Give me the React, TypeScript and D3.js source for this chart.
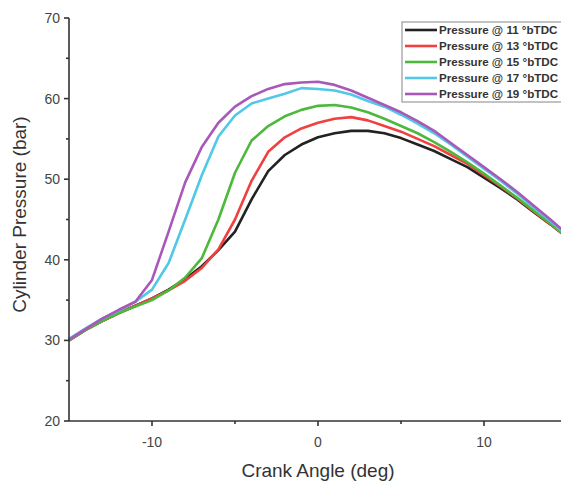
import React from 'react'
import * as d3 from 'd3'

const angles = d3.range(-15, 16)
const seriesNames = [
  'Pressure @ 11 °bTDC',
  'Pressure @ 13 °bTDC',
  'Pressure @ 15 °bTDC',
  'Pressure @ 17 °bTDC',
  'Pressure @ 19 °bTDC',
]
const colors = ['#222222', '#f04040', '#4cb83c', '#50c8e6', '#a858b8']

const p11 = [30, 31.3, 32.4, 33.4, 34.3, 35.2, 36.3, 37.6, 39.2, 41.2, 43.5, 47.5, 51.0, 53.0, 54.3, 55.2, 55.7, 56.0, 56.0, 55.7, 55.1, 54.3, 53.5, 52.5, 51.5, 50.2, 48.9, 47.5, 45.9, 44.4, 42.8]
const p13 = [30, 31.3, 32.4, 33.4, 34.3, 35.2, 36.2, 37.4, 39.0, 41.3, 45.0, 49.8, 53.4, 55.2, 56.3, 57.0, 57.5, 57.7, 57.3, 56.6, 55.9, 55.0, 54.1, 53.0, 51.9, 50.5, 49.1, 47.6, 46.0, 44.4, 42.8]
const p15 = [30, 31.3, 32.4, 33.4, 34.2, 35.0, 36.2, 37.8, 40.2, 45.0, 50.8, 54.8, 56.6, 57.8, 58.6, 59.1, 59.2, 58.9, 58.3, 57.5, 56.6, 55.7, 54.6, 53.4, 52.1, 50.7, 49.2, 47.7, 46.1, 44.5, 42.8]
const p17 = [30.2, 31.5, 32.7, 33.7, 34.8, 36.3, 39.6, 45.0, 50.5, 55.3, 57.9, 59.4, 60.0, 60.6, 61.3, 61.2, 61.0, 60.5, 59.7, 59.0, 58.0, 56.9, 55.7, 54.3, 52.8, 51.3, 49.8, 48.2, 46.5, 44.8, 43.0]
const p19 = [30.1, 31.4, 32.7, 33.8, 34.8, 37.5, 43.5, 49.6, 54.0, 57.0, 59.0, 60.3, 61.2, 61.8, 62.0, 62.1, 61.7, 61.0, 60.1, 59.2, 58.3, 57.2, 56.0, 54.5, 53.0, 51.5, 50.0, 48.4, 46.7, 45.0, 43.2]
const allSeries = [p11, p13, p15, p17, p19]

const xTicks = [-10, 0, 10]
const xMinor = [-5, 5]
const yTicks = [20, 30, 40, 50, 60, 70]
const yMinor = [25, 35, 45, 55, 65]

export default function App() {
  const width = 561
  const height = 484
  const x = d3.scaleLinear().domain([-15, 15]).range([69, 567])
  const y = d3.scaleLinear().domain([20, 70]).range([421, 18])
  const line = d3
    .line<number>()
    .x((_, i) => x(angles[i]))
    .y((d) => y(d))

  const axisColor = '#333'
  const font = 'Arial, "Liberation Sans", sans-serif'

  return (
    <div style={{position: 'absolute', left: 0, top: 0}}>
      <svg width={width} height={height} style={{display: 'block', background: '#fff'}}>
        {/* lines */}
        {allSeries.map((s, i) => (
          <path key={i} d={line(s) || ''} fill="none" stroke={colors[i]} strokeWidth={2.6} strokeLinejoin="round" />
        ))}

        {/* axes */}
        <line x1={x(-15)} x2={width} y1={y(20)} y2={y(20)} stroke={axisColor} strokeWidth={1.6} />
        <line x1={x(-15)} x2={x(-15)} y1={y(70)} y2={y(20)} stroke={axisColor} strokeWidth={1.6} />
        {xTicks.map((t) => (
          <g key={t}>
            <line x1={x(t)} x2={x(t)} y1={y(20)} y2={y(20) + 5} stroke={axisColor} strokeWidth={1.6} />
            <text x={x(t)} y={447} textAnchor="middle" fontSize={14} fontFamily={font} fill="#444">
              {t}
            </text>
          </g>
        ))}
        {xMinor.map((t) => (
          <line key={t} x1={x(t)} x2={x(t)} y1={y(20)} y2={y(20) + 3} stroke={axisColor} strokeWidth={1.6} />
        ))}
        {yTicks.map((t) => (
          <g key={t}>
            <line x1={x(-15) - 5} x2={x(-15)} y1={y(t)} y2={y(t)} stroke={axisColor} strokeWidth={1.6} />
            <text x={60} y={y(t) + 5} textAnchor="end" fontSize={14} fontFamily={font} fill="#444">
              {t}
            </text>
          </g>
        ))}
        {yMinor.map((t) => (
          <line key={t} x1={x(-15) - 3} x2={x(-15)} y1={y(t)} y2={y(t)} stroke={axisColor} strokeWidth={1.6} />
        ))}

        <text x={318} y={477} textAnchor="middle" fontSize={19} fontFamily={font} fill="#333">
          Crank Angle (deg)
        </text>
        <text
          transform={`translate(26,${y(45) - 5}) rotate(-90)`}
          textAnchor="middle"
          fontSize={19}
          fontFamily={font}
          fill="#333"
        >
          Cylinder Pressure (bar)
        </text>

        {/* legend */}
        <rect x={402} y={22} width={180} height={80} fill="#fff" stroke="#999" strokeWidth={1.2} />
        {seriesNames.map((n, i) => (
          <g key={n} transform={`translate(0,${30 + i * 16})`}>
            <line x1={405} x2={437} y1={0} y2={0} stroke={colors[i]} strokeWidth={2.6} />
            <text x={439} y={4} fontSize={11.6} fontWeight="bold" fontFamily={font} fill="#333">
              {n}
            </text>
          </g>
        ))}
      </svg>
    </div>
  )
}
